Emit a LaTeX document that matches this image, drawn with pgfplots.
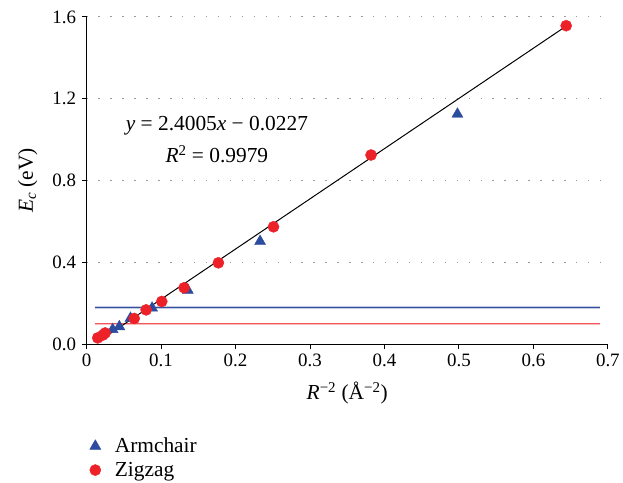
\documentclass[border=0pt]{standalone}
\usepackage{fontspec}
\setmainfont{Liberation Serif}
\usepackage{pgfplots}
\pgfplotsset{compat=1.18}
\definecolor{ZigRed}{HTML}{EC2228}
\definecolor{ArmBlue}{HTML}{2B4C9F}
\definecolor{LineRed}{HTML}{F2555A}
\definecolor{LineBlue}{HTML}{34509E}
\begin{document}
\begin{tikzpicture}
\begin{axis}[
  scale only axis,
  width=524pt,
  height=329pt,
  xmin=0, xmax=0.7,
  ymin=0, ymax=1.6,
  xtick={0,0.1,...,0.7},
  ytick={0,0.4,0.8,1.2,1.6},
  axis x line=bottom,
  axis y line=left,
  axis line style={-, line width=0.9pt},
  tick style={black, line width=0.9pt},
  tick align=outside,
  major tick length=5pt,
  /pgf/number format/assume math mode=true,
  x tick label style={/pgf/number format/fixed, font=\fontsize{19}{22}\selectfont, yshift=-1pt},
  y tick label style={/pgf/number format/fixed, /pgf/number format/fixed zerofill,
    /pgf/number format/precision=1, font=\fontsize{19}{22}\selectfont, xshift=-2pt},
  ymajorgrids=true,
  grid style={gray!80, line width=1pt, dash pattern=on 1.4pt off 10.6pt},
  xlabel={\textit{R}\textsuperscript{−2} (Å\textsuperscript{−2})},
  ylabel={\textit{E}\textsubscript{\textit{c}} (eV)},
  label style={font=\fontsize{21.5}{24}\selectfont},
  xlabel style={at={(rel axis cs:0.5,0)}, anchor=base, yshift=-56pt},
  ylabel style={at={([xshift=-54pt]rel axis cs:0,0.5)}, anchor=base},
  legend style={draw=none, at={(0,0)}, anchor=north west, xshift=0pt, yshift=-90pt,
    font=\fontsize{21.5}{24}\selectfont, row sep=4pt,
    /tikz/every odd column/.style={column sep=12pt}},
  legend image code/.code={\draw[#1] plot coordinates {(0pt,0pt)};},
  legend cell align=left,
  clip=false,
]
\addplot[draw=LineBlue!30, line width=2.4pt, forget plot] coordinates {(0.011,0.18) (0.69,0.18)};
\addplot[draw=LineBlue, line width=0.9pt, forget plot] coordinates {(0.011,0.18) (0.69,0.18)};
\addplot[draw=LineRed!40, line width=2.4pt, forget plot] coordinates {(0.011,0.10) (0.69,0.10)};
\addplot[draw=LineRed, line width=0.9pt, forget plot] coordinates {(0.011,0.10) (0.69,0.10)};
\addplot[only marks, mark=triangle*, mark size=6.4pt, mark options={fill=ArmBlue, draw=ArmBlue}] coordinates {
(0.035,0.072) (0.044,0.086) (0.059,0.127) (0.088,0.177) (0.136,0.264) (0.233,0.503) (0.498,1.125)};
\addplot[only marks, mark=*, mark size=5.6pt, mark options={fill=ZigRed, draw=ZigRed}] coordinates {
(0.015,0.031) (0.022,0.045) (0.025,0.055) (0.064,0.126) (0.080,0.168) (0.101,0.209) (0.131,0.276)
(0.177,0.398) (0.251,0.574) (0.382,0.925) (0.644,1.557)};
\addplot[black, line width=1pt, forget plot] coordinates {(0.017,0.016) (0.644,1.555)};
\legend{Armchair, Zigzag}
\node[font=\fontsize{21.5}{24}\selectfont, align=center] at (axis cs:0.175,1.0)
  {\textit{y} = 2.4005\textit{x} − 0.0227\\[8pt]\textit{R}\textsuperscript{2} = 0.9979};
\path (rel axis cs:0,0) ++(-87pt,-139pt) coordinate (bbA);
\path (rel axis cs:0,1) ++(536pt,17pt) coordinate (bbB);
\end{axis}
\end{tikzpicture}
\end{document}
